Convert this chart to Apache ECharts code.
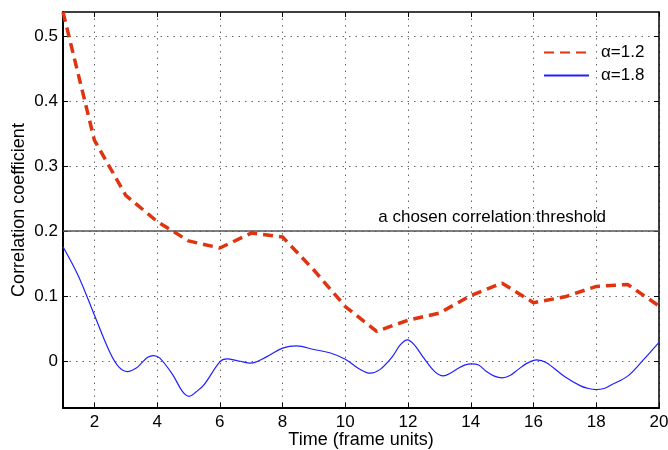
<!DOCTYPE html>
<html>
<head>
<meta charset="utf-8">
<script src="https://cdn.jsdelivr.net/npm/echarts@6/dist/echarts.min.js"></script>
<style>
  html, body { margin: 0; padding: 0; background: #fff; }
  #main { width: 668px; height: 450px; }
</style>
</head>
<body>
<div id="main"></div>
<script>
// data
var redX = [1, 2, 3, 4, 5, 6, 7, 8, 9, 10, 11, 12, 13, 14, 15, 16, 17, 18, 19, 20];
var redY = [0.537, 0.340, 0.255, 0.215, 0.185, 0.174, 0.197, 0.191, 0.140, 0.084,
            0.046, 0.063, 0.074, 0.101, 0.120, 0.090, 0.099, 0.115, 0.118, 0.085];

// blue curve: read at its turning points and around them
var blueX = [1, 1.5, 2, 2.5, 2.8, 3.06, 3.35, 3.5, 3.7, 3.88, 4.08, 4.5, 4.8, 5.02, 5.25, 5.5,
             6, 6.22, 6.6, 6.98, 7.5, 8, 8.45, 9, 9.5, 10, 10.45, 10.79, 11.1, 11.5, 11.75,
             11.98, 12.2, 12.5, 12.85, 13.12, 13.4, 13.6, 13.8, 14.03, 14.25, 14.5, 14.75, 15,
             15.25, 15.5, 15.8, 16.1, 16.4, 17, 17.5, 17.75, 18, 18.25, 18.5, 19, 19.5, 20];
var blueY = [0.176, 0.130, 0.071, 0.013, -0.010, -0.016, -0.010, -0.003, 0.006, 0.0087, 0.005,
             -0.021, -0.046, -0.054, -0.047, -0.036, -0.001, 0.0035, 0.0003, -0.003, 0.007,
             0.020, 0.0235, 0.018, 0.013, 0.003, -0.012, -0.0185, -0.013, 0.007, 0.025,
             0.0328, 0.025, 0.005, -0.016, -0.0226, -0.017, -0.011, -0.006, -0.004, -0.006,
             -0.016, -0.023, -0.0257, -0.022, -0.013, -0.003, 0.002, -0.002, -0.024, -0.038,
             -0.042, -0.0437, -0.042, -0.036, -0.023, 0.002, 0.029];

var xTicks = [2, 4, 6, 8, 10, 12, 14, 16, 18, 20];
var yTicks = [0, 0.1, 0.2, 0.3, 0.4, 0.5];
var threshold = 0.2;
var seriesNames = ['\u03b1=1.2', '\u03b1=1.8'];

var myChart = echarts.init(document.getElementById('main'));

var font = 'Liberation Sans, Arial, sans-serif';
var gridLine = { show: true, lineStyle: { color: '#666', width: 1, type: [1.5, 5] } };

var option = {
  animation: false,
  textStyle: { fontFamily: font },
  grid: { left: 63, right: 9, top: 12, bottom: 42, outerBoundsMode: 'none', containLabel: false },
  legend: {
    left: 543, top: 44, padding: 0,
    orient: 'vertical',
    itemWidth: 45, itemHeight: 14, itemGap: 6,
    itemStyle: { opacity: 0 },
    textStyle: { fontSize: 17, color: '#000', fontFamily: font, padding: [0, 0, 0, 7] },
    data: seriesNames
  },
  xAxis: [{
    type: 'value', min: 1, max: 20,
    name: 'Time (frame units)', nameLocation: 'middle', nameGap: 23, nameMoveOverlap: false,
    nameTextStyle: { fontSize: 18, color: '#000' },
    axisLine: { show: true, onZero: false, lineStyle: { color: '#000', width: 2 } },
    axisTick: { show: true, inside: true, length: 5, customValues: xTicks, lineStyle: { color: '#000' } },
    axisLabel: { fontSize: 17, color: '#000', margin: 6, customValues: xTicks },
    splitLine: gridLine
  }, {
    type: 'value', min: 1, max: 20, position: 'top',
    axisLine: { show: true, onZero: false, lineStyle: { color: '#000', width: 1.5 } },
    axisTick: { show: true, inside: true, length: 5, customValues: xTicks, lineStyle: { color: '#000' } },
    axisLabel: { show: false },
    splitLine: { show: false }
  }],
  yAxis: [{
    type: 'value', min: -0.072, max: 0.537,
    name: 'Correlation coefficient', nameLocation: 'middle', nameGap: 35, nameMoveOverlap: false,
    nameTextStyle: { fontSize: 18, color: '#000' },
    axisLine: { show: true, onZero: false, lineStyle: { color: '#000', width: 2 } },
    axisTick: { show: true, inside: true, length: 5, customValues: yTicks, lineStyle: { color: '#000' } },
    axisLabel: { fontSize: 17, color: '#000', margin: 5, customValues: yTicks },
    splitLine: gridLine
  }, {
    type: 'value', min: -0.072, max: 0.537, position: 'right',
    axisLine: { show: true, onZero: false, lineStyle: { color: '#000', width: 1.5 } },
    axisTick: { show: true, inside: true, length: 5, customValues: yTicks, lineStyle: { color: '#000' } },
    axisLabel: { show: false },
    splitLine: { show: false }
  }],
  series: [{
    name: seriesNames[0],
    type: 'line',
    data: redX.map(function (x, i) { return [x, redY[i]]; }),
    showSymbol: false, symbol: 'none',
    lineStyle: { color: '#e0330f', width: 3.5, type: [10, 6] },
    itemStyle: { color: '#e0330f' },
    z: 4,
    markLine: {
      silent: true, symbol: 'none',
      lineStyle: { color: '#555', width: 1.5, type: 'solid' },
      label: {
        show: true, position: 'insideEndTop',
        formatter: 'a chosen correlation threshold',
        color: '#000', fontSize: 17, fontFamily: font,
        distance: [53, 5]
      },
      data: [{ yAxis: threshold }]
    }
  }, {
    name: seriesNames[1],
    type: 'line',
    data: blueX.map(function (x, i) { return [x, blueY[i]]; }),
    showSymbol: false, symbol: 'none', smooth: 0.35,
    lineStyle: { color: '#1f1fff', width: 1.2 },
    itemStyle: { color: '#1f1fff' },
    z: 3
  }]
};

myChart.setOption(option);
</script>
</body>
</html>
